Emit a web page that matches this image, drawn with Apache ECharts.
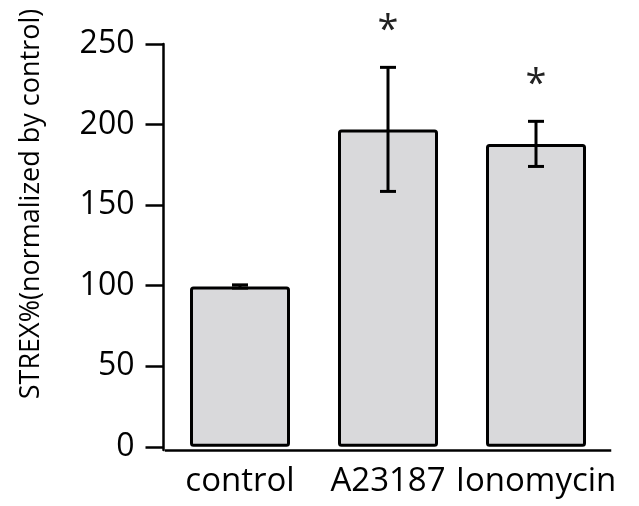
<!DOCTYPE html>
<html>
<head>
<meta charset="utf-8">
<script src="https://cdn.jsdelivr.net/npm/echarts@6/dist/echarts.min.js"></script>
<style>html,body{margin:0;padding:0;background:#fff;}#c{width:639px;height:506px;}</style>
</head>
<body>
<div id="c"></div>
<script>
var categories = ['control', 'A23187', 'Ionomycin'];
var means = [99.5, 197, 188];
var errors = [1, 38.5, 14];
var sig = ['', '*', '*'];
var yTicks = [0, 50, 100, 150, 200, 250];
var yTitle = 'STREX%(normalized by control)';

var FONT = 'Open Sans';
var chart = echarts.init(document.getElementById('c'));
var errData = categories.map(function (c, i) { return [i, means[i] - errors[i], means[i] + errors[i], sig[i]]; });

chart.setOption({
  animation: false,
  backgroundColor: '#fff',
  grid: { left: 166, right: 29, top: 44, bottom: 56, containLabel: false },
  xAxis: {
    type: 'category',
    data: categories,
    axisLine: { show: true, onZero: false, lineStyle: { color: '#000', width: 2.5, cap: 'square' } },
    axisTick: { show: false },
    axisLabel: { color: '#000', fontFamily: FONT, fontSize: 33, margin: 15, interval: 0, hideOverlap: false }
  },
  yAxis: {
    type: 'value',
    min: -2,
    max: 250,
    offset: 2.5,
    axisLine: { show: true, lineStyle: { color: '#000', width: 2.5 } },
    axisTick: { show: true, length: 18, lineStyle: { color: '#000', width: 2.5 }, customValues: yTicks },
    axisLabel: { color: '#000', fontFamily: FONT, fontSize: 32, margin: 29, customValues: yTicks },
    splitLine: { show: false }
  },
  graphic: [{
    type: 'text',
    x: 31, y: 204,
    rotation: Math.PI / 2,
    style: { text: yTitle, font: '27px "' + FONT + '"', fill: '#000', align: 'center', verticalAlign: 'middle' }
  }],
  series: [{
    type: 'bar',
    data: means,
    barWidth: 100,
    itemStyle: { color: '#d9d9db', borderColor: '#000', borderWidth: 3, borderRadius: 2 }
  }, {
    type: 'custom',
    data: errData,
    z: 5,
    renderItem: function (params, api) {
      var x = api.value(0);
      var lo = api.coord([x, api.value(1)]);
      var hi = api.coord([x, api.value(2)]);
      var cap = 8;
      var st = { stroke: '#000', lineWidth: 3 };
      var ch = [
        { type: 'line', shape: { x1: hi[0], y1: hi[1], x2: lo[0], y2: lo[1] }, style: st },
        { type: 'line', shape: { x1: hi[0] - cap, y1: hi[1], x2: hi[0] + cap, y2: hi[1] }, style: st },
        { type: 'line', shape: { x1: lo[0] - cap, y1: lo[1], x2: lo[0] + cap, y2: lo[1] }, style: st }
      ];
      var s = errData[params.dataIndex][3];
      if (s) {
        ch.push({ type: 'text', style: { text: s, x: hi[0], y: hi[1] - 36, align: 'center', verticalAlign: 'middle', font: '38px "' + FONT + '"', fill: '#222' } });
      }
      return { type: 'group', children: ch };
    }
  }]
});
</script>
</body>
</html>
